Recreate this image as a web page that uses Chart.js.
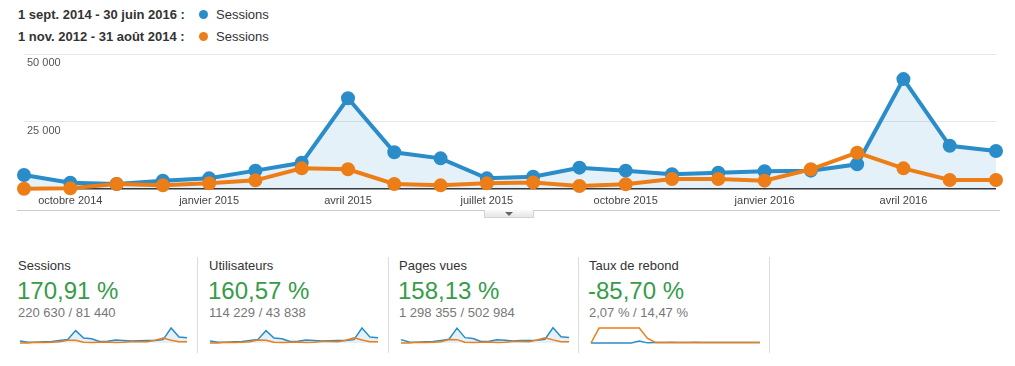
<!DOCTYPE html>
<html>
<head>
<meta charset="utf-8">
<script src="https://cdn.jsdelivr.net/npm/chart.js@4.4.1/dist/chart.umd.min.js"></script>
<style>
body { margin: 0; background: #fff; font-family: "Liberation Sans", Arial, sans-serif; color: #333; }
#wrap { position: relative; width: 1015px; height: 366px; overflow: hidden; }
.abs { position: absolute; white-space: nowrap; }
.leg { left: 18px; font-size: 13px; line-height: 15px; font-weight: bold; color: #333; }
.legs { left: 216px; font-size: 13px; line-height: 15px; color: #333; }
.dot { width: 9px; height: 9px; border-radius: 50%; left: 199px; }
.lbl { font-size: 13px; line-height: 15px; color: #333; }
.big { font-size: 24px; line-height: 28px; color: #379b4a; }
.sub { font-size: 13px; line-height: 15px; color: #777; }
.div { width: 1px; background: #ddd; top: 257px; height: 96px; }
.box { position: absolute; }
</style>
</head>
<body>
<div id="wrap">
  <div class="abs leg" style="top:7px">1 sept. 2014 - 30 juin 2016 :</div>
  <div class="abs dot" style="top:10px;background:#2a8cc8"></div>
  <div class="abs legs" style="top:7px">Sessions</div>
  <div class="abs leg" style="top:29px">1 nov. 2012 - 31 août 2014 :</div>
  <div class="abs dot" style="top:32px;background:#ed7e17"></div>
  <div class="abs legs" style="top:29px">Sessions</div>

  <div class="box" style="left:0;top:40px;width:1015px;height:180px"><canvas id="main"></canvas></div>

  <div class="abs" style="left:17px;top:210px;width:983px;height:1px;background:#ccc"></div>
  <div class="abs" style="left:484px;top:210px;width:48px;height:7px;border:1px solid #d4d4d4;border-top:none;background:linear-gradient(#fafafa,#e6e6e6)"></div>
  <div class="abs" style="left:505px;top:212px;width:0;height:0;border-left:4px solid transparent;border-right:4px solid transparent;border-top:4px solid #666"></div>

  <div class="abs div" style="left:197px"></div>
  <div class="abs div" style="left:388px"></div>
  <div class="abs div" style="left:578px"></div>
  <div class="abs div" style="left:769px"></div>

  <div class="abs lbl" style="left:18px;top:258px">Sessions</div>
  <div class="abs big" style="left:17px;top:277px">170,91 %</div>
  <div class="abs sub" style="left:18px;top:305px">220 630 / 81 440</div>

  <div class="abs lbl" style="left:209px;top:258px">Utilisateurs</div>
  <div class="abs big" style="left:208px;top:277px">160,57 %</div>
  <div class="abs sub" style="left:209px;top:305px">114 229 / 43 838</div>

  <div class="abs lbl" style="left:399px;top:258px">Pages vues</div>
  <div class="abs big" style="left:398px;top:277px">158,13 %</div>
  <div class="abs sub" style="left:399px;top:305px">1 298 355 / 502 984</div>

  <div class="abs lbl" style="left:589px;top:258px">Taux de rebond</div>
  <div class="abs big" style="left:588px;top:277px">-85,70 %</div>
  <div class="abs sub" style="left:589px;top:305px">2,07 % / 14,47 %</div>

  <div class="box" style="left:16px;top:318px;width:175px;height:30px"><canvas id="sp1"></canvas></div>
  <div class="box" style="left:206px;top:318px;width:176px;height:30px"><canvas id="sp2"></canvas></div>
  <div class="box" style="left:397px;top:318px;width:176px;height:30px"><canvas id="sp3"></canvas></div>
  <div class="box" style="left:587px;top:318px;width:177px;height:30px"><canvas id="sp4"></canvas></div>
</div>

<script>
// months of the current period (sept 2014 - juin 2016)
const months = ['septembre 2014', 'octobre 2014', 'novembre 2014', 'décembre 2014',
    'janvier 2015', 'février 2015', 'mars 2015', 'avril 2015', 'mai 2015', 'juin 2015',
    'juillet 2015', 'août 2015', 'septembre 2015', 'octobre 2015', 'novembre 2015', 'décembre 2015',
    'janvier 2016', 'février 2016', 'mars 2016', 'avril 2016', 'mai 2016', 'juin 2016'];

// sessions
const sessionsCur = [5200, 2300, 1850, 3100, 3950, 6800, 9700, 33600, 13600, 11350, 3950,
    4550, 7900, 6800, 5450, 6050, 6550, 6800, 9150, 40700, 16000, 14050];
const sessionsPrev = [100, 250, 1850, 1350, 2100, 3200, 7650, 7300, 1850, 1350, 2100,
    2450, 1100, 1750, 3700, 3700, 3100, 7300, 13450, 7650, 3350, 3350];

// sparklines
const usersCur = [2900, 1200, 1000, 1600, 2100, 3500, 5000, 17200, 7000, 5800, 2000,
    2400, 4100, 3500, 2800, 3100, 3400, 3500, 4700, 20900, 8200, 7200];
const usersPrev = [50, 150, 1000, 700, 1100, 1700, 4100, 3900, 1000, 700, 1100,
    1300, 600, 900, 2000, 2000, 1600, 3900, 7200, 4100, 1800, 1800];
const pagesCur = [45000, 14000, 11000, 16000, 20000, 35000, 50000, 200000, 72000, 60000, 20000,
    24000, 42000, 36000, 28000, 32000, 35000, 36000, 50000, 205000, 85000, 75000];
const pagesPrev = [500, 1500, 9000, 7000, 11000, 17000, 48000, 45000, 10000, 7000, 11000,
    13000, 6000, 9000, 19000, 20000, 17000, 40000, 70000, 42000, 17000, 17000];
const bounceCur = [0.3, 0.3, 0.3, 0.3, 0.3, 0.3, 7, 0.5, 2, 2, 2, 1.8, 1.6, 2.2, 1.8, 1.6, 2, 1.8, 1.6, 1.5, 1.6, 1.5];
const bouncePrev = [0, 55, 55, 55, 55, 55, 55, 18, 2, 2, 2.4, 1.8, 1.6, 2.6, 1.8, 1.6, 2.2, 1.8, 1.6, 1.5, 1.6, 1.5];

const yTicks = [0, 25000, 50000];

const BLUE = '#2a8cc8';
const ORANGE = '#ed7e17';
const FILL = 'rgba(42,140,200,0.12)';

function fmt(v) {
    return String(v).replace(/\B(?=(\d{3})+(?!\d))/g, ' ');
}

new Chart(document.getElementById('main'), {
    type: 'line',
    data: {
        labels: months,
        datasets: [
            {
                label: 'Sessions (1 sept. 2014 - 30 juin 2016)',
                data: sessionsCur,
                borderColor: BLUE,
                backgroundColor: FILL,
                pointBackgroundColor: BLUE,
                pointBorderColor: BLUE,
                borderWidth: 4,
                pointRadius: 5,
                fill: 'origin',
                tension: 0,
                clip: false,
                order: 2
            },
            {
                label: 'Sessions (1 nov. 2012 - 31 août 2014)',
                data: sessionsPrev,
                borderColor: ORANGE,
                pointBackgroundColor: ORANGE,
                pointBorderColor: ORANGE,
                borderWidth: 4,
                pointRadius: 5,
                fill: false,
                tension: 0,
                clip: false,
                order: 1
            }
        ]
    },
    options: {
        responsive: true,
        maintainAspectRatio: false,
        animation: false,
        layout: { padding: { left: 24, right: 19, top: 14, bottom: 0 } },
        plugins: { legend: { display: false }, tooltip: { enabled: false } },
        scales: {
            x: {
                grid: { display: false, drawTicks: false },
                border: { display: false },
                ticks: {
                    autoSkip: false,
                    maxRotation: 0,
                    padding: 5,
                    color: '#444',
                    font: { family: '"Liberation Sans", Arial', size: 11 },
                    callback: function(value, index) {
                        return index % 3 === 1 ? months[index] : '';
                    }
                },
                afterFit: function(s) { s.height = 31; }
            },
            y: {
                min: yTicks[0],
                max: yTicks[yTicks.length - 1],
                afterBuildTicks: function(s) { s.ticks = yTicks.map(v => ({ value: v })); },
                border: { display: false },
                grid: {
                    drawTicks: false,
                    color: c => c.tick.value === 0 ? '#333' : '#e6e6e6',
                    lineWidth: c => c.tick.value === 0 ? 1.5 : 1
                },
                ticks: {
                    mirror: true,
                    padding: 3,
                    labelOffset: 9,
                    color: '#555',
                    font: { family: '"Liberation Sans", Arial', size: 11 },
                    callback: v => v === 0 ? '' : fmt(v)
                },
                afterFit: function(s) { s.width = 0; }
            }
        }
    }
});

function spark(id, cur, prev, max) {
    new Chart(document.getElementById(id), {
        type: 'line',
        data: {
            labels: months,
            datasets: [
                { data: cur, borderColor: BLUE, backgroundColor: FILL, borderWidth: 1.5,
                  pointRadius: 0, fill: 'origin', tension: 0, clip: false, order: 2 },
                { data: prev, borderColor: ORANGE, borderWidth: 1.5,
                  pointRadius: 0, fill: false, tension: 0, clip: false, order: 1 }
            ]
        },
        options: {
            responsive: true,
            maintainAspectRatio: false,
            animation: false,
            layout: { padding: { left: 4, right: 4, top: 6, bottom: 5 } },
            plugins: { legend: { display: false }, tooltip: { enabled: false } },
            scales: {
                x: { display: false },
                y: { display: false, min: 0, max: max }
            }
        }
    });
}

spark('sp1', sessionsCur, sessionsPrev, 51500);
spark('sp2', usersCur, usersPrev, 26500);
spark('sp3', pagesCur, pagesPrev, 255000);
spark('sp4', bounceCur, bouncePrev, 70);
</script>
</body>
</html>
